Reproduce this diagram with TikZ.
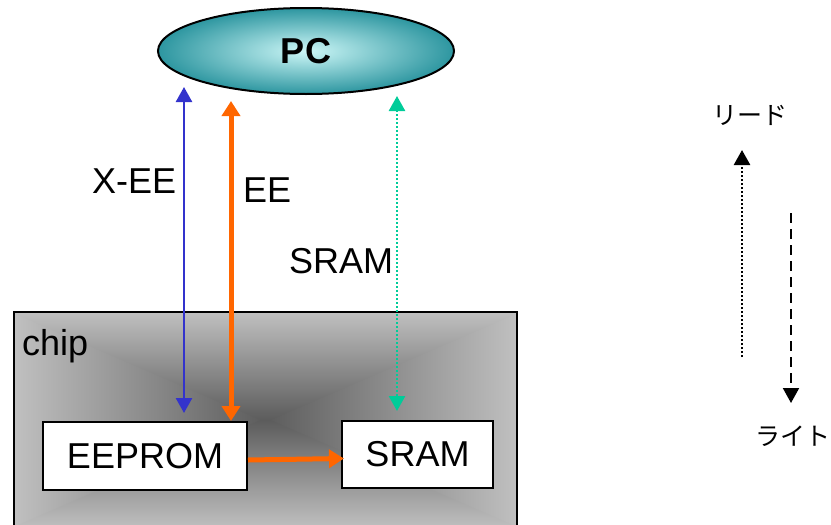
\documentclass[tikz,border=0pt]{standalone}
\usepackage{fontspec}
\setmainfont{Liberation Sans}
\newfontfamily\jpfont{Noto Sans CJK JP}
\usetikzlibrary{arrows.meta,shapes.geometric}
\definecolor{chipedge}{RGB}{192,192,192}
\definecolor{chipmid}{RGB}{92,92,92}
\definecolor{pcin}{RGB}{205,247,247}
\definecolor{pcout}{RGB}{45,150,160}
\definecolor{xeeblue}{RGB}{51,51,204}
\definecolor{eeorange}{RGB}{255,102,0}
\definecolor{sramteal}{RGB}{0,204,153}
\tikzset{
  bigtext/.style={font=\fontsize{36}{42}\selectfont},
  lbl/.style={bigtext, inner sep=0pt, anchor=base west},
  membox/.style={draw, fill=white, line width=2pt, minimum width=204pt, minimum height=68pt, inner sep=0pt, bigtext},
  chipbox/.style={minimum width=503pt, minimum height=216pt, inner sep=0pt},
  tipA/.style={-{Triangle[length=15pt,width=16pt]}},
  tipAA/.style={{Triangle[length=15pt,width=16pt]}-{Triangle[length=15pt,width=16pt]}},
  xeearrow/.style={tipAA, xeeblue, line width=2.5pt},
  eearrow/.style={{Triangle[length=15pt,width=18pt]}-{Triangle[length=15pt,width=18pt]}, eeorange, line width=5pt},
  eeflow/.style={-{Triangle[length=15pt,width=18pt]}, eeorange, line width=5pt},
  sramarrow/.style={tipAA, sramteal, line width=2.5pt, dash pattern=on 2pt off 2pt},
  readarrow/.style={tipA, black, line width=2.5pt, dash pattern=on 2pt off 2pt},
  writearrow/.style={tipA, black, line width=2pt, dash pattern=on 10pt off 6pt},
  jptext/.style={font=\jpfont\fontsize{25}{30}\selectfont, inner sep=0pt}
}
\begin{document}
\begin{tikzpicture}[x=1pt,y=-1pt]
\useasboundingbox (0,0) rectangle (831,525);

% chip
\node[chipbox] (chip) at (265.5,420) {};
\shade[left color=chipedge,right color=chipmid] (chip.north west)--(chip.south west)--(chip.center)--cycle;
\shade[right color=chipedge,left color=chipmid] (chip.north east)--(chip.south east)--(chip.center)--cycle;
\begin{scope}
  \clip ([xshift=-3pt]chip.north west) -- ([xshift=3pt]chip.north east) -- ([yshift=-2pt]chip.center) -- cycle;
  \shade[top color=chipedge,bottom color=chipmid] (chip.north west) rectangle (chip.east);
\end{scope}
\begin{scope}
  \clip ([xshift=-3pt]chip.south west) -- ([xshift=3pt]chip.south east) -- ([yshift=2pt]chip.center) -- cycle;
  \shade[bottom color=chipedge,top color=chipmid] (chip.west) rectangle (chip.south east);
\end{scope}
\draw[line width=2pt] (chip.north west) rectangle (chip.south east);
\node[lbl] (chiplbl) at (22,355) {chip};

% memory boxes
\node[membox] (eeprom) at (145,456) {EEPROM};
\node[membox, minimum width=151pt, minimum height=67pt] (sram) at (417.5,454.5) {SRAM};

% PC
\node[ellipse, draw, line width=2pt, minimum width=296pt, minimum height=86pt, inner sep=0pt,
      shading=radial, inner color=pcin, outer color=pcout,
      font=\bfseries\fontsize{36}{42}\selectfont] (pc) at (306,51) {PC};

% connectors
\coordinate (xeetop) at (184,87);
\coordinate (eetop) at (231,101);
\coordinate (sramtop) at (397,96);
\draw[xeearrow, shorten >=8pt] (xeetop) -- (xeetop |- eeprom.north);
\draw[eearrow] (eetop) -- (eetop |- eeprom.north);
\draw[sramarrow, shorten >=9pt] (sramtop) -- (sramtop |- sram.north);
\draw[eeflow] ([yshift=-4pt]eeprom.east) -- ([yshift=-4pt,xshift=3pt]sram.west);

% labels
\node[lbl] (xeelbl) at (92,193) {X-EE};
\node[lbl] (eelbl) at (243,202) {EE};
\node[lbl] (sramlbl) at (289,273) {SRAM};

% legend
\node[jptext] (read) at (750,115) {リード};
\node[jptext] (write) at (793,436) {ライト};
\coordinate (readbot) at (742,357);
\coordinate (readtop) at (742,150);
\coordinate (writetop) at (791,213);
\coordinate (writebot) at (791,403);
\draw[readarrow] (readbot) -- (readtop);
\draw[writearrow] (writetop) -- (writebot);
\end{tikzpicture}
\end{document}
